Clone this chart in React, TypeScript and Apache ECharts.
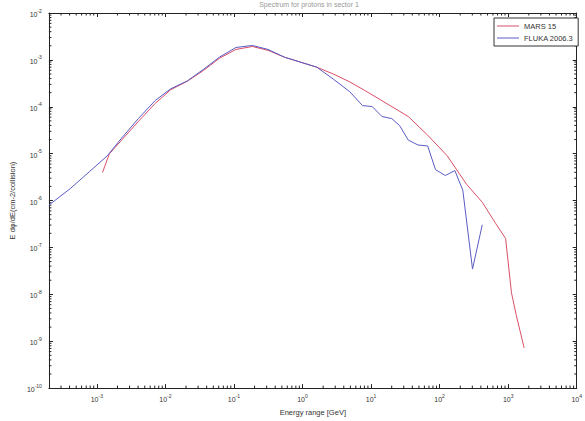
import React, { useEffect, useRef } from 'react';
import * as echarts from 'echarts';

// MARS 15 spectrum
const marsEnergy = [1.21e-3, 1.52e-3, 2.3e-3, 4.05e-3, 7.07e-3, 1.19e-2, 2.08e-2, 3.63e-2, 6.12e-2, 0.107, 0.186, 0.314, 0.548, 1.61, 2.81, 4.9, 8.26, 14.4, 34.9, 67, 129, 248, 419, 662, 918, 1117, 1315, 1710];
const marsFlux = [3.95e-6, 9.9e-6, 1.95e-5, 4.9e-5, 1.17e-4, 2.3e-4, 3.5e-4, 6.0e-4, 1.08e-3, 1.67e-3, 1.93e-3, 1.6e-3, 1.14e-3, 7.0e-4, 5.0e-4, 3.39e-4, 2.19e-4, 1.35e-4, 6.2e-5, 2.48e-5, 9.0e-6, 2.21e-6, 9.2e-7, 3.19e-7, 1.55e-7, 1.08e-8, 3.55e-9, 7.2e-10];

// FLUKA 2006.3 spectrum
const flukaEnergy = [2e-4, 4.1e-4, 7.9e-4, 1.42e-3, 2.3e-3, 4.05e-3, 7.07e-3, 1.19e-2, 2.08e-2, 3.63e-2, 6.12e-2, 0.107, 0.186, 0.314, 0.548, 1.61, 2.81, 4.9, 7.5, 10.4, 14.4, 20, 26, 34.9, 48.4, 67, 87, 121, 167, 218, 302, 419];
const flukaFlux = [8.0e-7, 1.8e-6, 4.2e-6, 9.0e-6, 2.15e-5, 5.65e-5, 1.35e-4, 2.41e-4, 3.55e-4, 6.35e-4, 1.14e-3, 1.84e-3, 2.03e-3, 1.67e-3, 1.14e-3, 7.0e-4, 3.9e-4, 2.09e-4, 1.06e-4, 1.01e-4, 6.2e-5, 5.6e-5, 4.0e-5, 1.95e-5, 1.53e-5, 1.46e-5, 4.57e-6, 3.42e-6, 4.36e-6, 1.66e-6, 3.46e-8, 3.04e-7];

const seriesNames = ['MARS 15', 'FLUKA 2006.3'];
const xRange = [2e-4, 1e4];
const yRange = [1e-10, 1e-2];
const minorMultipliers = [2, 3, 4, 5, 6, 7, 8, 9];
const xDecades = [-4, -3, -2, -1, 0, 1, 2, 3];
const yDecades = [-10, -9, -8, -7, -6, -5, -4, -3];

const FONT = '"Liberation Sans", Arial, sans-serif';
const AXIS = '#222';

function powLabel(v: number) {
  const l = Math.log10(v);
  const e = Math.round(l);
  if (Math.abs(l - e) > 1e-6) return '';
  return `{b|10}{s|${e}}`;
}

const rich = {
  b: { fontSize: 7, fontFamily: FONT, color: '#333', verticalAlign: 'bottom', lineHeight: 10 },
  s: { fontSize: 5, fontFamily: FONT, color: '#333', verticalAlign: 'top', lineHeight: 10 },
};

export default function App() {
  const ref = useRef<HTMLDivElement>(null);
  useEffect(() => {
    if (!ref.current) return;
    const chart = echarts.init(ref.current, undefined, { renderer: 'svg' });
    const minorX = xDecades
      .flatMap((d) => minorMultipliers.map((m) => m * Math.pow(10, d)))
      .filter((v) => v > xRange[0] * 1.001 && v < xRange[1]);
    const minorY = yDecades
      .flatMap((d) => minorMultipliers.map((m) => m * Math.pow(10, d)))
      .filter((v) => v > yRange[0] && v < yRange[1]);

    const tickStyle = { stroke: AXIS, lineWidth: 1 };
    const baseX = {
      type: 'log' as const,
      min: xRange[0],
      max: xRange[1],
      splitLine: { show: false },
      axisLine: { show: true, onZero: false, lineStyle: { color: AXIS, width: 1 } },
      axisTick: { show: true, inside: true, length: 4, lineStyle: { color: AXIS } },
    };
    const baseY = {
      type: 'log' as const,
      min: yRange[0],
      max: yRange[1],
      splitLine: { show: false },
      axisLine: { show: true, onZero: false, lineStyle: { color: AXIS, width: 1 } },
      axisTick: { show: true, inside: true, length: 4, lineStyle: { color: AXIS } },
    };

    chart.setOption({
      animation: false,
      backgroundColor: '#fff',
      grid: { left: 38, right: 5, top: 13, bottom: 27, containLabel: false },
      graphic: [
        {
          type: 'text',
          x: 309,
          y: 1,
          style: {
            text: 'Spectrum for protons in sector 1',
            fontSize: 7,
            fontFamily: FONT,
            fill: '#999',
            align: 'center',
            verticalAlign: 'top',
          },
        },
      ],
      legend: {
        data: seriesNames,
        orient: 'vertical',
        left: 494,
        top: 18,
        icon: 'rect',
        itemWidth: 22,
        itemHeight: 1,
        itemGap: 4,
        padding: [4, 5, 4, 3],
        borderColor: '#333',
        borderWidth: 1,
        borderRadius: 0,
        backgroundColor: '#fff',
        textStyle: { fontSize: 7.5, fontFamily: FONT, color: '#333' },
      },
      xAxis: [
        {
          ...baseX,
          position: 'bottom',
          name: 'Energy range [GeV]',
          nameLocation: 'middle',
          nameGap: 17,
          nameTextStyle: { fontSize: 7.5, fontFamily: FONT, color: '#333' },
          axisLabel: { show: true, formatter: powLabel, rich, margin: 5, showMinLabel: true },
        },
        { ...baseX, position: 'top', axisLabel: { show: false } },
      ],
      yAxis: [
        {
          ...baseY,
          position: 'left',
          name: 'E d\u03c6/dE(cm-2/collision)',
          nameLocation: 'middle',
          nameRotate: 90,
          nameGap: 29,
          nameTextStyle: { fontSize: 7.5, fontFamily: FONT, color: '#333' },
          axisLabel: { show: true, formatter: powLabel, rich, margin: 7 },
        },
        { ...baseY, position: 'right', axisLabel: { show: false } },
      ],
      series: [
        {
          name: seriesNames[0],
          type: 'line',
          xAxisIndex: 0,
          yAxisIndex: 0,
          showSymbol: false,
          symbol: 'none',
          lineStyle: { color: '#d94f68', width: 1 },
          itemStyle: { color: '#d94f68' },
          data: marsEnergy.map((x, i) => [x, marsFlux[i]]),
        },
        {
          name: seriesNames[1],
          type: 'line',
          xAxisIndex: 0,
          yAxisIndex: 0,
          showSymbol: false,
          symbol: 'none',
          lineStyle: { color: '#5a5cc4', width: 1 },
          itemStyle: { color: '#5a5cc4' },
          data: flukaEnergy.map((x, i) => [x, flukaFlux[i]]),
        },
        {
          type: 'custom',
          xAxisIndex: 0,
          yAxisIndex: 0,
          silent: true,
          clip: false,
          data: minorX.map((v) => [v, 1e-6]),
          renderItem: (params: any, api: any) => {
            const p = api.coord([api.value(0), api.value(1)]);
            const cs = params.coordSys;
            const yb = cs.y + cs.height;
            return {
              type: 'group',
              children: [
                { type: 'line', shape: { x1: p[0], y1: yb, x2: p[0], y2: yb - 2.5 }, style: tickStyle },
                { type: 'line', shape: { x1: p[0], y1: cs.y, x2: p[0], y2: cs.y + 2.5 }, style: tickStyle },
              ],
            };
          },
        },
        {
          type: 'custom',
          xAxisIndex: 0,
          yAxisIndex: 0,
          silent: true,
          clip: false,
          data: minorY.map((v) => [1, v]),
          renderItem: (params: any, api: any) => {
            const p = api.coord([api.value(0), api.value(1)]);
            const cs = params.coordSys;
            const xr = cs.x + cs.width;
            return {
              type: 'group',
              children: [
                { type: 'line', shape: { x1: cs.x, y1: p[1], x2: cs.x + 2.5, y2: p[1] }, style: tickStyle },
                { type: 'line', shape: { x1: xr, y1: p[1], x2: xr - 2.5, y2: p[1] }, style: tickStyle },
              ],
            };
          },
        },
      ],
    });
    return () => chart.dispose();
  }, []);
  return (
    <div
      ref={ref}
      style={{ position: 'absolute', left: 0, top: 0, width: 585, height: 421, background: '#fff' }}
    />
  );
}
